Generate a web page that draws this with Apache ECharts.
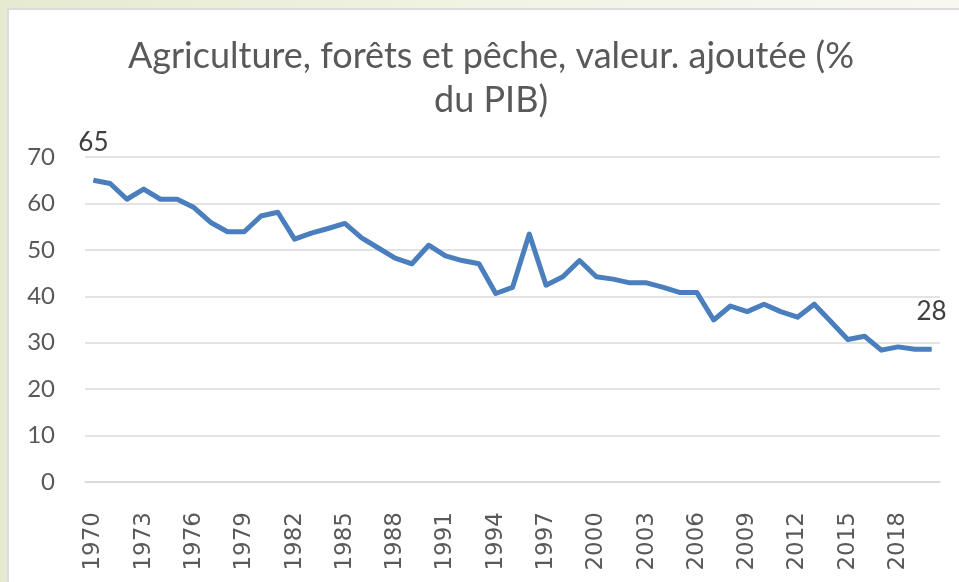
<!DOCTYPE html>
<html>
<head>
<meta charset="utf-8">
<script src="https://cdn.jsdelivr.net/npm/echarts@6/dist/echarts.min.js"></script>
<style>
  html, body { margin: 0; padding: 0; }
  body {
    width: 959px; height: 582px; overflow: hidden; position: relative;
    background: linear-gradient(90deg, #e6ead0 0%, #f1f3e4 50%, #f8f8f1 100%);
  }
  .card {
    position: absolute; left: 7px; top: 8px; right: 0; bottom: 0;
    background: #fff; border-top: 2px solid #dcdcdc; border-left: 2px solid #dcdcdc;
  }
  #chart { position: absolute; left: 0; top: 0; width: 959px; height: 582px; }
</style>
</head>
<body>
<div class="card"></div>
<div id="chart"></div>
<script>
// années 1970 → 2020
const years = []
for (let y = 1970; y <= 2020; y++) years.push(String(y))

// valeur ajoutée agriculture, forêts, pêche (% du PIB)
const valeurs = [
  65.0, 64.3, 60.9, 63.1, 60.9, 60.9, 59.1, 55.9, 53.9, 53.9,
  57.3, 58.1, 52.3, 53.6, 54.6, 55.7, 52.6, 50.4, 48.2, 47.0,
  51.0, 48.7, 47.7, 47.0, 40.6, 41.9, 53.4, 42.4, 44.2, 47.7,
  44.2, 43.7, 42.9, 42.9, 41.9, 40.8, 40.8, 34.9, 37.9, 36.7,
  38.3, 36.7, 35.5, 38.3, 34.5, 30.7, 31.4, 28.4, 29.1, 28.6,
  28.6
]
// étiquettes affichées seulement aux extrémités
const etiquettes = { 0: '65', 50: '28' }

const chart = echarts.init(document.getElementById('chart'), null, { renderer: 'canvas' })

const grey = '#595959'
const lineColor = '#4a7ebd'

chart.setOption({
  backgroundColor: 'transparent',
  title: {
    text: 'Agriculture, forêts et pêche, valeur. ajoutée (%\ndu PIB)',
    left: 486,
    top: 29,
    textAlign: 'center',
    textStyle: {
      fontFamily: 'Lato',
      fontSize: 36,
      fontWeight: 'normal',
      color: grey,
      lineHeight: 44
    }
  },
  grid: { left: 85, right: 19, top: 157, bottom: 100, containLabel: false },
  xAxis: {
    type: 'category',
    data: years,
    boundaryGap: true,
    axisTick: { show: false },
    axisLine: { lineStyle: { color: '#d9d9d9', width: 1.5 } },
    axisLabel: {
      rotate: 90,
      interval: 2,
      margin: 30,
      fontFamily: 'DejaVu Sans',
      fontSize: 23,
      color: grey
    }
  },
  yAxis: {
    type: 'value',
    min: 0,
    max: 70,
    interval: 10,
    axisLine: { show: false },
    axisTick: { show: false },
    splitLine: { lineStyle: { color: '#dadada', width: 1.5 } },
    axisLabel: { fontFamily: 'Lato', fontSize: 24, color: grey, margin: 30 }
  },
  series: [{
    type: 'line',
    data: valeurs.map((v, i) => ({
      value: v,
      label: etiquettes[i] ? {
        show: true,
        position: 'top',
        distance: 24,
        formatter: etiquettes[i],
        fontFamily: 'Lato',
        fontSize: 26,
        color: '#404040'
      } : { show: false }
    })),
    symbol: 'circle',
    symbolSize: 1,
    showSymbol: true,
    itemStyle: { color: lineColor },
    lineStyle: { color: lineColor, width: 5, join: 'round' },
    animation: false
  }]
})
</script>
</body>
</html>
